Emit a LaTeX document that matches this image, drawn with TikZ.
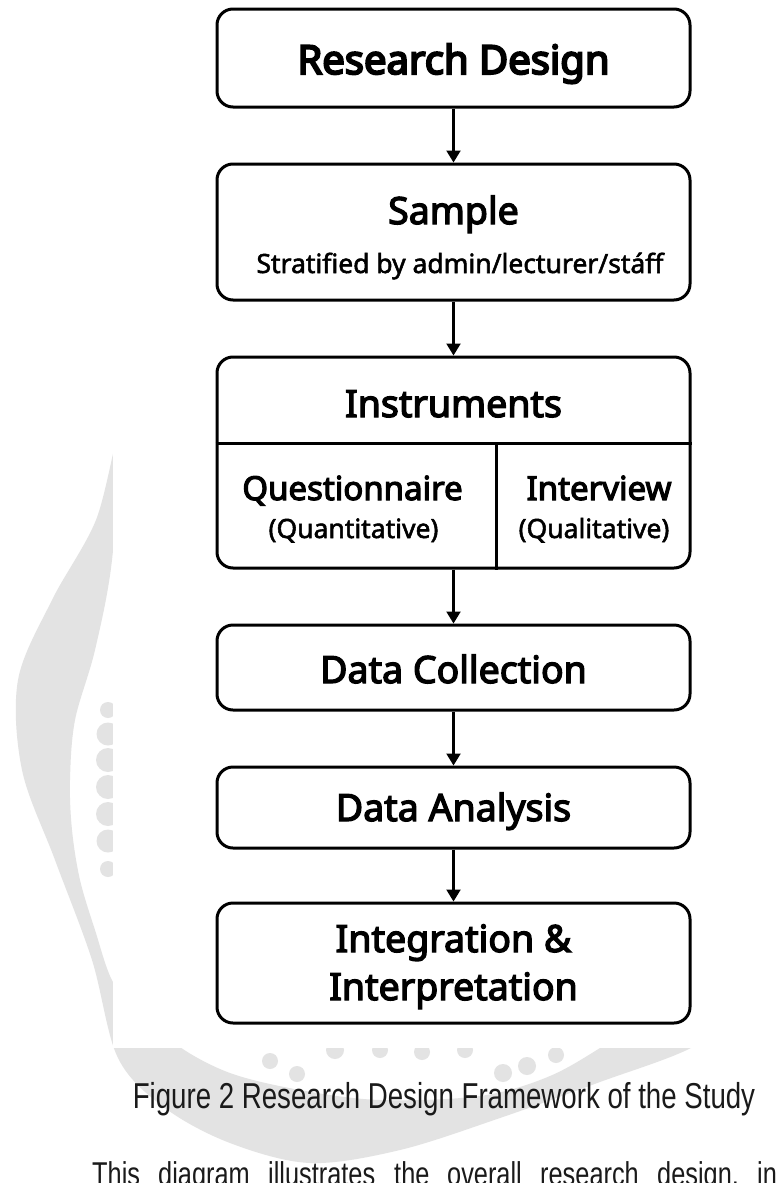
\documentclass[tikz,border=0pt]{standalone}
\usepackage{fontspec}
\setmainfont{Noto Sans}
\newfontfamily\topfont{Noto Sans}[FakeBold=5]
\newfontfamily\headfont{Noto Sans}[FakeBold=3.5]
\newfontfamily\subfont{Noto Sans}[FakeBold=2]
\newfontfamily\capfont{Liberation Sans}
\usetikzlibrary{arrows.meta,calc}

\definecolor{markgray}{HTML}{E3E3E3}
\definecolor{captext}{HTML}{1A1A1A}

\begin{document}
\begin{tikzpicture}[x=1pt,y=-1pt,
  stage/.style={draw=black, line width=3pt, rounded corners=16pt,
    minimum width=473pt, inner sep=0pt, fill=white},
  flow/.style={line width=2.2pt, -{Triangle[width=14pt,length=12pt]}},
  rule/.style={line width=3pt},
  bigtitle/.style={anchor=base, inner sep=0pt,
    font=\topfont\fontsize{40}{44}\selectfont},
  title/.style={anchor=base, inner sep=0pt,
    font=\headfont\fontsize{37.5}{42}\selectfont},
  midtitle/.style={anchor=base, inner sep=0pt,
    font=\headfont\fontsize{33}{38}\selectfont},
  note/.style={anchor=base, inner sep=0pt,
    font=\subfont\fontsize{26.5}{30}\selectfont},
  captionstyle/.style={inner sep=0pt, text=captext,
    font=\capfont\fontsize{36}{40}\selectfont},
  bodystyle/.style={inner sep=0pt, text=captext, anchor=base west,
    font=\capfont\fontsize{33}{38}\selectfont}
]
\useasboundingbox (0,0) rectangle (779,1183);
\clip (0,0) rectangle (779,1183);
\fill[white] (0,0) rectangle (779,1183);

% faint seal in the page background
\fill[markgray] plot[smooth cycle, tension=0.55] coordinates {
  (120,430) (96,520) (52,600) (18,680) (22,770) (55,860) (92,960)
  (118,1058) (165,1108) (230,1143) (310,1163) (400,1150) (500,1118)
  (600,1082) (693,1047) (760,1000) (700,985) (613,1040) (550,1076)
  (480,1096) (380,1100) (300,1090) (230,1073) (177,1045) (140,1008)
  (113,982) (95,930) (80,880) (72,830) (70,780) (75,720) (95,650)
  (112,560)};
\foreach \yy/\rr in {710/8, 734/11.5, 760/12, 787/12, 814/12, 841/11.5, 869/8}
  \fill[markgray] (108,\yy) circle (\rr);
\foreach \xx/\yy/\rr in {270/1061/8, 297/1074/8, 335/1050/9, 380/1050/8,
  422/1052/8, 465/1050/8, 503/1073/9, 527/1066/9, 556/1055/8}
  \fill[markgray] (\xx,\yy) circle (\rr);

% white sheet carrying the flowchart
\fill[white] (113,0) rectangle (779,1048);

% stages
\node[stage, minimum height=98pt]  (design)   at (453.5,58)    {};
\node[stage, minimum height=136pt] (sample)   at (453.5,232)   {};
\node[stage, minimum height=211pt] (instr)    at (453.5,462.5) {};
\node[stage, minimum height=85pt]  (collect)  at (453.5,667.5) {};
\node[stage, minimum height=81pt]  (analysis) at (453.5,807.5) {};
\node[stage, minimum height=120pt] (integr)   at (453.5,963)   {};

% split of the instruments box
\coordinate (splitL) at ($(instr.north west)!0.412!(instr.south west)$);
\coordinate (splitR) at ($(instr.north east)!0.412!(instr.south east)$);
\coordinate (splitM) at ($(splitL)!0.59!(splitR)$);
\draw[rule] (splitL) -- (splitR);
\draw[rule] (splitM) -- (splitM |- instr.south);

% labels
\node[bigtitle] (designT) at (453.5,74) {Research Design};
\node[title] (sampleT) at (453.5,224) {Sample};
\node[note]  (sampleN) at (460,273) {Stratified by admin/lecturer/stáff};
\node[title] (instrT) at (453.5,417) {Instruments};
\node[midtitle] (questT) at (352.5,500) {Questionnaire};
\node[note] (questN) at (353.5,538) {(Quantitative)};
\node[midtitle] (interT) at (599,500) {Interview};
\node[note] (interN) at (594,538) {(Qualitative)};
\node[title] (collectT) at (453.5,683) {Data Collection};
\node[title] (analysisT) at (453.5,821) {Data Analysis};
\node[title] (integrT) at (453.5,952) {Integration \&};
\node[title] (interpT) at (453.5,1000) {Interpretation};

% connectors
\draw[flow] (design.south) -- (sample.north);
\draw[flow] (sample.south) -- (instr.north);
\draw[flow] (instr.south) -- (collect.north);
\draw[flow] (collect.south) -- (analysis.north);
\draw[flow] (analysis.south) -- (integr.north);

% caption and first line of the text below
\node[captionstyle, anchor=base] (caption) at (444,1108)
  {\scalebox{0.768}[1]{Figure 2 Research Design Framework of the Study}};
\foreach \xx/\word [count=\i] in {92/This, 158/diagram, 268/illustrates,
  394/the, 447/overall, 540/research, 657/{design,}, 757/in}
  \node[bodystyle] (body\i) at (\xx,1185)
    {\scalebox{0.768}[1]{\word}};
\end{tikzpicture}
\end{document}
